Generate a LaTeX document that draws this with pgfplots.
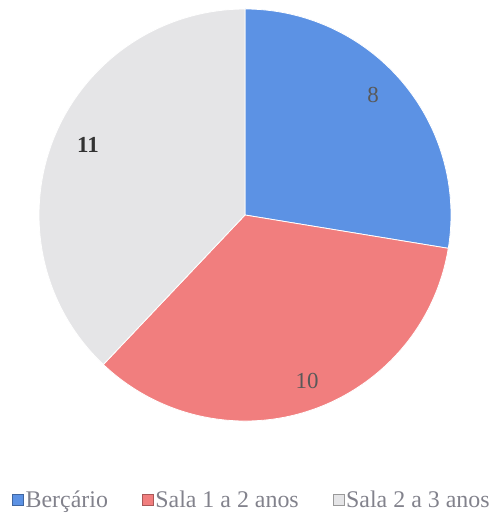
\documentclass[border=0pt]{standalone}
\usepackage{pgfplots}
\pgfplotsset{compat=1.18}
\usepackage{pgfplotstable}
\usepackage{fontspec}
\setmainfont{Liberation Serif}

\definecolor{cBer}{RGB}{92,146,228}
\definecolor{cSala1}{RGB}{241,126,126}
\definecolor{cSala2}{RGB}{229,229,231}
\definecolor{legtext}{RGB}{130,130,140}

\pgfplotstableread[col sep=comma]{
label,value
Berçário,8
Sala 1 a 2 anos,10
Sala 2 a 3 anos,11
}\piedata

\begin{document}
\begin{tikzpicture}
\begin{axis}[
    scale only axis, width=494bp, height=521bp,
    xmin=0, xmax=494, ymin=0, ymax=521,
    hide axis, clip=false,
    legend style={draw=none, fill=none, at={(0.51,0.04)}, anchor=center,
        font=\fontsize{24}{26}\selectfont\color{legtext},
        legend columns=3, /tikz/every even column/.append style={column sep=32bp},
        inner sep=0pt},
    legend image code/.code={\draw[#1] (0bp,-5bp) rectangle (11bp,6bp);},
]
\pgfplotstablegetelem{0}{value}\of\piedata \let\va\pgfplotsretval
\pgfplotstablegetelem{1}{value}\of\piedata \let\vb\pgfplotsretval
\pgfplotstablegetelem{2}{value}\of\piedata \let\vc\pgfplotsretval
\pgfmathsetmacro\tot{\va+\vb+\vc}
\pgfmathsetmacro\aA{90}
\pgfmathsetmacro\aB{90-360*\va/\tot}
\pgfmathsetmacro\aC{\aB-360*\vb/\tot}
\pgfmathsetmacro\aD{\aC-360*\vc/\tot}
\addlegendimage{fill=cBer, draw=cBer!70!black}
\addlegendentry{Berçário}
\addlegendimage{fill=cSala1, draw=cSala1!70!black}
\addlegendentry{Sala 1 a 2 anos}
\addlegendimage{fill=cSala2, draw=black!40}
\addlegendentry{Sala 2 a 3 anos}
\path (axis cs:0,0) rectangle (axis cs:494,521);
\fill[cBer, draw=white, line width=0.8bp] (axis cs:245,306) -- ++(\aA:206bp) arc[start angle=\aA, end angle=\aB, radius=206bp] -- cycle;
\fill[cSala1, draw=white, line width=0.8bp] (axis cs:245,306) -- ++(\aB:206bp) arc[start angle=\aB, end angle=\aC, radius=206bp] -- cycle;
\fill[cSala2, draw=white, line width=0.8bp] (axis cs:245,306) -- ++(\aC:206bp) arc[start angle=\aC, end angle=\aD, radius=206bp] -- cycle;
\node[font=\fontsize{23}{25}\selectfont, text=black!65] at (axis cs:373,426) {\va};
\node[font=\fontsize{23}{25}\selectfont, text=black!65] at (axis cs:307,140) {\vb};
\node[font=\fontsize{23}{25}\selectfont\bfseries, text=black!80] at (axis cs:88,376) {\vc};
\end{axis}
\end{tikzpicture}
\end{document}
